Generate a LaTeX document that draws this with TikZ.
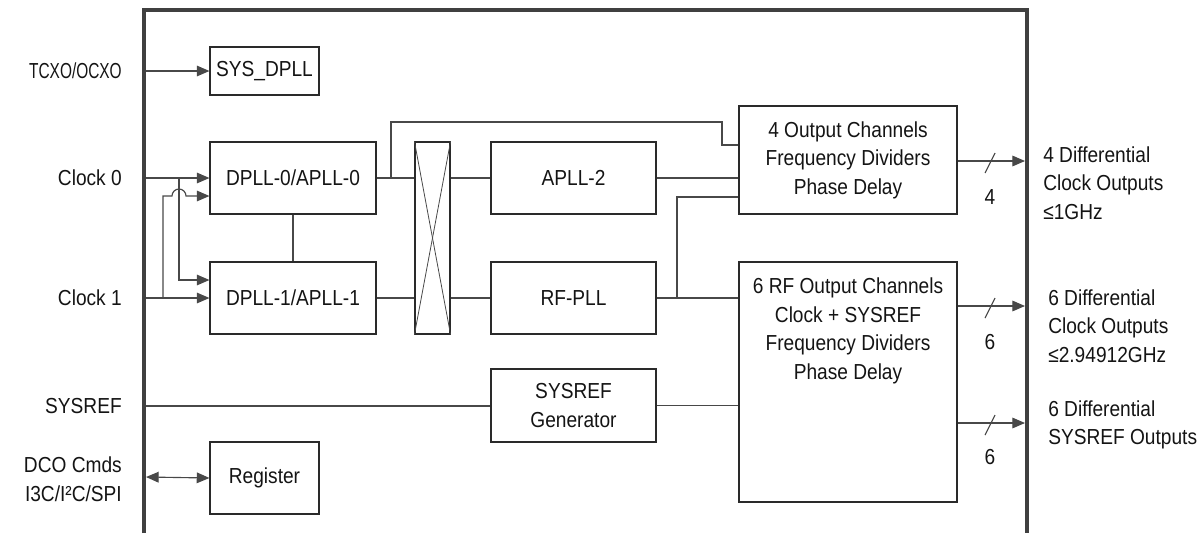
\documentclass[tikz,border=0pt]{standalone}
\usepackage{fontspec}
\setmainfont{Liberation Sans}[FakeStretch=0.88]
\newfontfamily\tightfont{Liberation Sans}[FakeStretch=0.71]
\usetikzlibrary{arrows.meta}
\definecolor{framec}{HTML}{404040}
\definecolor{lnc}{HTML}{484848}
\definecolor{boxc}{HTML}{2A2A2A}
\definecolor{txtc}{HTML}{141414}
\begin{document}
\begin{tikzpicture}[x=0.75pt,y=-0.75pt,
  font=\fontsize{16.3pt}{21.4pt}\selectfont, text=txtc,
  box/.style={draw=boxc, line width=0.85pt, inner sep=0pt, align=center},
  wire/.style={draw=lnc, line width=0.85pt},
  arr/.style={wire, -{Triangle[length=9.5pt,width=8pt]}},
  darr/.style={wire, {Triangle[length=9.5pt,width=8pt]}-{Triangle[length=9.5pt,width=8pt]}},
  lbl/.style={align=right, anchor=east, inner sep=0pt},
  rlbl/.style={align=left, anchor=west, inner sep=0pt},
  num/.style={inner sep=0pt}]
\useasboundingbox (0,0) rectangle (1202,533);

% outer frame
\coordinate (fbl) at (144,533);
\coordinate (ftl) at (144,10);
\coordinate (ftr) at (1027,10);
\coordinate (fbr) at (1027,533);
\draw[draw=framec, line width=3pt, line join=miter] (fbl) -- (ftl) -- (ftr) -- (fbr);

% blocks
\node[box, minimum width=81.75pt, minimum height=36pt] (sys) at (264.5,71) {SYS\_DPLL};
\node[box, minimum width=124.5pt, minimum height=54pt] (dpll0) at (293,178) {DPLL-0/APLL-0};
\node[box, minimum width=124.5pt, minimum height=54pt] (dpll1) at (293,298) {DPLL-1/APLL-1};
\node[box, minimum width=26.25pt, minimum height=144pt] (xbar) at (432.5,238) {};
\draw[draw=lnc, line width=0.6pt] (xbar.north west) -- (xbar.south east);
\draw[draw=lnc, line width=0.6pt] (xbar.north east) -- (xbar.south west);
\node[box, minimum width=123.75pt, minimum height=54pt] (apll2) at (573.5,178) {APLL-2};
\node[box, minimum width=123.75pt, minimum height=54pt] (rfpll) at (573.5,298) {RF-PLL};
\node[box, minimum width=123.75pt, minimum height=54.75pt] (sysgen) at (573.5,405.5) {SYSREF\\Generator};
\node[box, minimum width=81.75pt, minimum height=54pt] (reg) at (264.5,478) {Register};
\node[box, minimum width=163.5pt, minimum height=81pt] (out4) at (848,160) {4 Output Channels\\Frequency Dividers\\Phase Delay};
\node[box, minimum width=163.5pt, minimum height=180pt] (rf6) at (848,382) {};
\node[inner sep=0pt, align=center] (rf6t) at (848,331) {6 RF Output Channels\\Clock + SYSREF\\Frequency Dividers\\Phase Delay};

% left labels
\node[lbl] (ltcxo) at (122,71) {\tightfont TCXO/OCXO};
\node[lbl] (lclk0) at (122,178) {Clock 0};
\node[lbl] (lclk1) at (122,298) {Clock 1};
\node[lbl] (lsysref) at (122,406) {SYSREF};
\node[lbl] (ldco) at (122,479) {DCO Cmds\\I3C/I²C/SPI};

% input coordinates on the frame
\coordinate (itcxo) at (146,71);
\coordinate (iclk0) at (146,178);
\coordinate (iclk1) at (146,298);
\coordinate (isysref) at (146,406);
\coordinate (idco) at (146,477);

% inputs
\draw[arr] (itcxo) -- (sys.west);
\draw[arr] (iclk0) -- (dpll0.west);
\draw[arr] (iclk1) -- (dpll1.west);
\coordinate (b0) at (179,178);
\coordinate (b1) at (163,298);
\draw[arr] (b0) -- (179,280) -- (dpll1.west |- 0,280);
\draw[arr] (b1) -- (163,196) -- (172,196) arc[start angle=180, end angle=0, radius=5.25pt] -- (dpll0.west |- 0,196);
\draw[darr] (idco) -- (reg.west);

% internal wiring
\draw[wire] (dpll0.south) -- (dpll1.north);
\draw[wire] (dpll0.east) -- (xbar.west |- dpll0.east);
\draw[wire] (dpll1.east) -- (xbar.west |- dpll1.east);
\coordinate (b2) at (391,178);
\draw[wire] (b2) -- (391,122) -- (722,122) -- (722,145) -- (out4.west |- 0,145);
\draw[wire] (xbar.east |- apll2.west) -- (apll2.west);
\draw[wire] (xbar.east |- rfpll.west) -- (rfpll.west);
\draw[wire] (apll2.east) -- (out4.west |- apll2.east);
\draw[wire] (rfpll.east) -- (rf6.west |- rfpll.east);
\coordinate (b3) at (677,298);
\draw[wire] (b3) -- (677,197) -- (out4.west |- 0,197);
\draw[wire] (isysref) -- (sysgen.west |- isysref);
\draw[wire] (sysgen.east) -- (rf6.west |- sysgen.east);

% outputs
\coordinate (o1) at (1025,161);
\coordinate (o2) at (1025,306);
\coordinate (o3) at (1025,423);
\draw[arr] (out4.east |- o1) -- (o1);
\draw[arr] (rf6.east |- o2) -- (o2);
\draw[arr] (rf6.east |- o3) -- (o3);
\draw[wire] (985,173) -- (995,153);
\draw[wire] (985,318) -- (995,298);
\draw[wire] (985,435) -- (995,415);
\node[num] (n4) at (990,197) {4};
\node[num] (n6a) at (990,342) {6};
\node[num] (n6b) at (990,457) {6};

% right labels
\node[rlbl] (r1) at (1043,183) {4 Differential\\Clock Outputs\\≤1GHz};
\node[rlbl] (r2) at (1048,326) {6 Differential\\Clock Outputs\\≤2.94912GHz};
\node[rlbl] (r3) at (1048,425) {6 Differential\\SYSREF Outputs};
\end{tikzpicture}
\end{document}
